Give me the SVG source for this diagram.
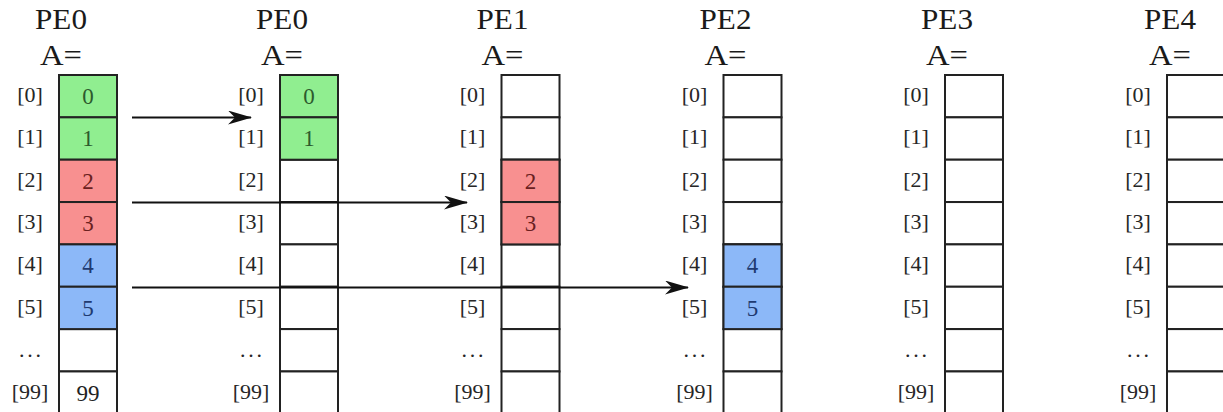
<svg xmlns="http://www.w3.org/2000/svg" width="1223" height="412" viewBox="0 0 1223 412">
<style>
.cell{stroke:#222;stroke-width:2;fill:#fff}
.g{fill:#90ee90}.r{fill:#f89090}.b{fill:#8cb8f8}
.hd{font-family:"Liberation Serif",serif;font-size:29px;fill:#1a1a1a;text-anchor:middle}
.ix{font-family:"Liberation Serif",serif;font-size:22px;fill:#262626;text-anchor:middle}
.v{font-family:"Liberation Serif",serif;font-size:23px;text-anchor:middle;fill:#222}
.vg{fill:#2d5a2d}.vr{fill:#6a2020}.vb{fill:#203a70}
.arr{stroke:#111;stroke-width:2;fill:none;marker-end:url(#ah)}
</style>
<defs>
<marker id="ah" markerUnits="userSpaceOnUse" viewBox="0 0 24 14" refX="23" refY="7" markerWidth="24" markerHeight="14" orient="auto">
<path d="M0,0 L24,7 L0,14 L7,7 Z" fill="#111"/>
</marker>
<g id="labels">
<text class="ix" x="-29" y="102">[0]</text>
<text class="ix" x="-29" y="144.4">[1]</text>
<text class="ix" x="-29" y="186.7">[2]</text>
<text class="ix" x="-29" y="229">[3]</text>
<text class="ix" x="-29" y="271.4">[4]</text>
<text class="ix" x="-29" y="313.8">[5]</text>
<text class="ix" x="-29" y="357" textLength="22" lengthAdjust="spacing">...</text>
<text class="ix" x="-29" y="398.5">[99]</text>
</g>
<g id="cells">
<rect class="cell" x="0" y="75" width="58" height="42.35"/>
<rect class="cell" x="0" y="117.35" width="58" height="42.35"/>
<rect class="cell" x="0" y="159.7" width="58" height="42.35"/>
<rect class="cell" x="0" y="202.05" width="58" height="42.35"/>
<rect class="cell" x="0" y="244.4" width="58" height="42.35"/>
<rect class="cell" x="0" y="286.75" width="58" height="42.35"/>
<rect class="cell" x="0" y="329.1" width="58" height="42.35"/>
<rect class="cell" x="0" y="371.45" width="58" height="42.35"/>
</g>
</defs>

<g id="pe0-src" transform="translate(59,0)">
<text class="hd" x="2" y="29" textLength="52" lengthAdjust="spacingAndGlyphs">PE0</text>
<text class="hd" x="2" y="65" textLength="42" lengthAdjust="spacingAndGlyphs">A=</text>
<use href="#labels"/>
<use href="#cells"/>
<rect class="cell g" x="0" y="75" width="58" height="42.35"/>
<rect class="cell g" x="0" y="117.35" width="58" height="42.35"/>
<rect class="cell r" x="0" y="159.7" width="58" height="42.35"/>
<rect class="cell r" x="0" y="202.05" width="58" height="42.35"/>
<rect class="cell b" x="0" y="244.4" width="58" height="42.35"/>
<rect class="cell b" x="0" y="286.75" width="58" height="42.35"/>
<text class="v vg" x="29" y="104">0</text>
<text class="v vg" x="29" y="146.4">1</text>
<text class="v vr" x="29" y="188.7">2</text>
<text class="v vr" x="29" y="231">3</text>
<text class="v vb" x="29" y="273.4">4</text>
<text class="v vb" x="29" y="315.8">5</text>
<text class="v" x="29" y="400.5">99</text>
</g>

<g id="pe0" transform="translate(280,0)">
<text class="hd" x="2" y="29" textLength="52" lengthAdjust="spacingAndGlyphs">PE0</text>
<text class="hd" x="2" y="65" textLength="42" lengthAdjust="spacingAndGlyphs">A=</text>
<use href="#labels"/>
<use href="#cells"/>
<rect class="cell g" x="0" y="75" width="58" height="42.35"/>
<rect class="cell g" x="0" y="117.35" width="58" height="42.35"/>
<text class="v vg" x="29" y="104">0</text>
<text class="v vg" x="29" y="146.4">1</text>
</g>

<g id="pe1" transform="translate(501.5,0)">
<text class="hd" x="1" y="29" textLength="52" lengthAdjust="spacingAndGlyphs">PE1</text>
<text class="hd" x="1" y="65" textLength="42" lengthAdjust="spacingAndGlyphs">A=</text>
<use href="#labels"/>
<use href="#cells"/>
<rect class="cell r" x="0" y="159.7" width="58" height="42.35"/>
<rect class="cell r" x="0" y="202.05" width="58" height="42.35"/>
<text class="v vr" x="29" y="188.7">2</text>
<text class="v vr" x="29" y="231">3</text>
</g>

<g id="pe2" transform="translate(723.5,0)">
<text class="hd" x="2" y="29" textLength="52" lengthAdjust="spacingAndGlyphs">PE2</text>
<text class="hd" x="2" y="65" textLength="42" lengthAdjust="spacingAndGlyphs">A=</text>
<use href="#labels"/>
<use href="#cells"/>
<rect class="cell b" x="0" y="244.4" width="58" height="42.35"/>
<rect class="cell b" x="0" y="286.75" width="58" height="42.35"/>
<text class="v vb" x="29" y="273.4">4</text>
<text class="v vb" x="29" y="315.8">5</text>
</g>

<g id="pe3" transform="translate(945,0)">
<text class="hd" x="2" y="29" textLength="52" lengthAdjust="spacingAndGlyphs">PE3</text>
<text class="hd" x="2" y="65" textLength="42" lengthAdjust="spacingAndGlyphs">A=</text>
<use href="#labels"/>
<use href="#cells"/>
</g>

<g id="pe4" transform="translate(1167,0)">
<text class="hd" x="3" y="29" textLength="52" lengthAdjust="spacingAndGlyphs">PE4</text>
<text class="hd" x="3" y="65" textLength="42" lengthAdjust="spacingAndGlyphs">A=</text>
<use href="#labels"/>
<use href="#cells"/>
</g>

<g id="connectors">
<line class="arr" x1="132" y1="117.5" x2="251" y2="117.5"/>
<line class="arr" x1="132" y1="202.5" x2="467" y2="202.5"/>
<line class="arr" x1="132" y1="287.5" x2="688" y2="287.5"/>
</g>
</svg>
